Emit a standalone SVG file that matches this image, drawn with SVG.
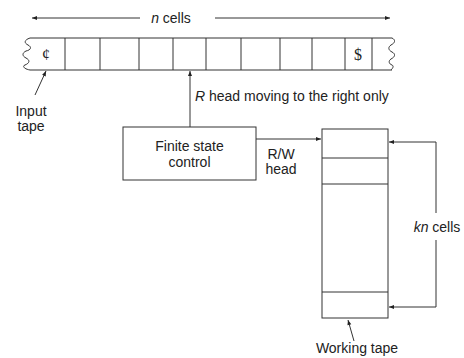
<svg xmlns="http://www.w3.org/2000/svg" width="464" height="358" viewBox="0 0 464 358">
<defs>
<marker id="ah" viewBox="0 0 10 10" refX="10" refY="5" markerWidth="8" markerHeight="5" orient="auto" markerUnits="userSpaceOnUse">
<path d="M0,1 L10,5 L0,9 Z" fill="#222"/>
</marker>
</defs>
<style>
.ln{stroke:#333;stroke-width:1;fill:none}
.tx{font-family:"Liberation Sans",Arial,sans-serif;font-size:14px;fill:#222}
.it{font-style:italic}
.sym{font-family:"Liberation Serif","Times New Roman",serif;font-size:16px;fill:#222}
</style>
<rect width="464" height="358" fill="#fff"/>
<g id="input-tape">
<path class="ln" d="M30,38 H392 M30,70 H392"/>
<path class="ln" d="M30,38 c-6,2 -6,5 -2,7 c4,2 3,5 -2,6 c-4,2 -4,5 0,7 c4,2 4,5 -1,7 c-3,1 -1,4 5,5"/>
<path class="ln" d="M392,38 c4,2 3,5 -1,7 c-3,2 -3,5 1,7 c4,2 3,5 -1,7 c-3,2 -2,5 1,6 c2,1 1,3 -1,5"/>
<path class="ln" d="M65,38V70 M100,38V70 M139,38V70 M173,38V70 M206,38V70 M241,38V70 M280,38V70 M312,38V70 M345,38V70 M372,38V70"/>
<text class="sym" x="46" y="60" text-anchor="middle">¢</text>
<text class="sym" x="358" y="60" text-anchor="middle">$</text>
</g>
<g id="labels">
<text class="tx" x="171" y="23" text-anchor="middle"><tspan class="it">n</tspan> cells</text>
<text class="tx" x="31" y="116" text-anchor="middle">Input</text>
<text class="tx" x="31" y="131" text-anchor="middle">tape</text>
<text class="tx" x="195" y="101"><tspan class="it">R</tspan> head moving to the right only</text>
<text class="tx" x="281" y="159" text-anchor="middle">R/W</text>
<text class="tx" x="281" y="174" text-anchor="middle">head</text>
<text class="tx" x="437" y="232" text-anchor="middle"><tspan class="it">kn</tspan> cells</text>
<text class="tx" x="357" y="353" text-anchor="middle">Working tape</text>
</g>
<g id="fsc">
<rect class="ln" x="123" y="127" width="133" height="53"/>
<text class="tx" x="189.5" y="151" text-anchor="middle">Finite state</text>
<text class="tx" x="189.5" y="167" text-anchor="middle">control</text>
</g>
<g id="working-tape">
<rect class="ln" x="322" y="129" width="66" height="189"/>
<path class="ln" d="M322,158H388 M322,184H388 M322,292H388"/>
</g>
<g id="connectors">
<path class="ln" d="M140,18H32" marker-end="url(#ah)"/>
<path class="ln" d="M215,18H390" marker-end="url(#ah)"/>
<path class="ln" d="M35,95L46,71" marker-end="url(#ah)"/>
<path class="ln" d="M190,127V71" marker-end="url(#ah)"/>
<path class="ln" d="M256,139H321" marker-end="url(#ah)"/>
<path class="ln" d="M436,213V142H389" marker-end="url(#ah)"/>
<path class="ln" d="M436,240V307H389" marker-end="url(#ah)"/>
<path class="ln" d="M354,341L348,320" marker-end="url(#ah)"/>
</g>
</svg>
